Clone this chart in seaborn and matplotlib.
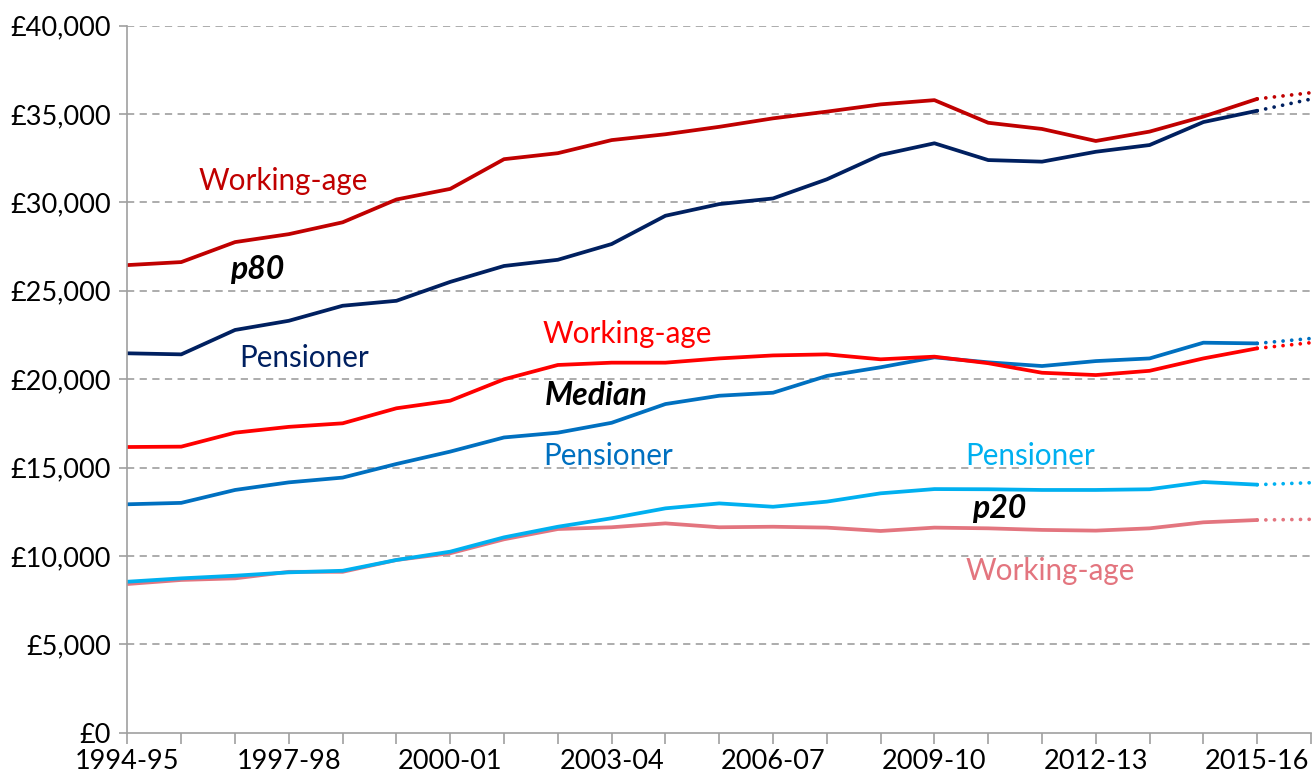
import numpy as np
import pandas as pd
import matplotlib
matplotlib.use('Agg')
import matplotlib.pyplot as plt
from matplotlib import font_manager
from matplotlib.ticker import FuncFormatter
import seaborn as sns

# Financial years (last one is the projection)
years = ['1994-95', '1995-96', '1996-97', '1997-98', '1998-99', '1999-00',
         '2000-01', '2001-02', '2002-03', '2003-04', '2004-05', '2005-06',
         '2006-07', '2007-08', '2008-09', '2009-10', '2010-11', '2011-12',
         '2012-13', '2013-14', '2014-15', '2015-16', '2016-17']

# Observed series, 1994-95 to 2015-16 (£ per year)
wa_p80 = [26450, 26620, 27750, 28200, 28870, 30160, 30760, 32440, 32780, 33520, 33850,
          34270, 34750, 35130, 35540, 35780, 34500, 34150, 33470, 34000, 34850, 35850]
pen_p80 = [21460, 21400, 22780, 23300, 24150, 24430, 25500, 26400, 26750, 27640, 29240,
           29900, 30220, 31300, 32680, 33340, 32390, 32300, 32860, 33240, 34540, 35180]
wa_median = [16160, 16180, 16970, 17300, 17500, 18350, 18780, 19990, 20800, 20930, 20930,
             21170, 21340, 21400, 21120, 21270, 20900, 20360, 20230, 20470, 21170, 21740]
pen_median = [12920, 13000, 13730, 14160, 14430, 15200, 15900, 16700, 16970, 17530, 18590,
              19060, 19230, 20180, 20670, 21230, 20950, 20740, 21020, 21170, 22060, 22020]
pen_p20 = [8540, 8730, 8880, 9070, 9160, 9770, 10240, 11050, 11650, 12130, 12690,
           12970, 12780, 13070, 13540, 13780, 13770, 13730, 13730, 13770, 14180, 14030]
wa_p20 = [8410, 8640, 8730, 9100, 9100, 9770, 10150, 10940, 11520, 11620, 11840,
          11620, 11650, 11600, 11410, 11600, 11560, 11470, 11430, 11560, 11900, 12030]

# Projected 2016-17 values (dotted)
proj_2016 = {'wa_p80': 36200, 'pen_p80': 35840, 'wa_median': 22060,
             'pen_median': 22300, 'pen_p20': 14140, 'wa_p20': 12070}

series = [
    ('wa_p20', wa_p20, '#E3757F'),
    ('pen_p20', pen_p20, '#00B0F0'),
    ('pen_median', pen_median, '#0070C0'),
    ('wa_median', wa_median, '#FF0000'),
    ('pen_p80', pen_p80, '#002060'),
    ('wa_p80', wa_p80, '#C00000'),
]

available = {f.name for f in font_manager.fontManager.ttflist}
label_font = 'Lato' if 'Lato' in available else 'DejaVu Sans'
tick_font = 'Liberation Sans Narrow' if 'Liberation Sans Narrow' in available else label_font

sns.set_style('white')
plt.rcParams['font.family'] = [label_font, 'DejaVu Sans']

fig = plt.figure(figsize=(13.14, 7.76), dpi=100)
ax = fig.add_axes([0.097, 0.0558, 0.9007, 0.9113])

lw = 2.7
for key, vals, col in series:
    x = np.arange(len(vals))
    sns.lineplot(x=x, y=vals, ax=ax, color=col, linewidth=lw)
    # dotted projection to 2016-17
    sns.lineplot(x=[len(vals) - 1, len(vals)], y=[vals[-1], proj_2016[key]], ax=ax,
                 color=col, linewidth=lw, linestyle=(0, (0.01, 2.3)),
                 dash_capstyle='round')

ax.set_xlim(0, len(years) - 1)
ax.set_ylim(0, 40000)

ax.set_xticks(np.arange(len(years)))
ax.set_xticklabels([y if i % 3 == 0 else '' for i, y in enumerate(years)])
ax.set_yticks(np.arange(0, 40001, 5000))
ax.yaxis.set_major_formatter(FuncFormatter(lambda v, p: f'£{v:,.0f}'))

for lab in ax.get_xticklabels() + ax.get_yticklabels():
    lab.set_fontfamily(tick_font)
    lab.set_fontsize(19.5)
    lab.set_color('#000000')

ax.tick_params(axis='x', direction='out', length=8, width=1.2, color='#A0A0A0', pad=4)
ax.tick_params(axis='y', direction='out', length=6, width=1.2, color='#A0A0A0', pad=6)
ax.xaxis.set_ticks_position('bottom')
ax.yaxis.set_ticks_position('left')

for y in range(5000, 40001, 5000):
    ax.axhline(y, color='#A6A6A6', linestyle=(0, (4, 3)), linewidth=1.3, zorder=0)

for side in ['top', 'right']:
    ax.spines[side].set_visible(False)
for side in ['left', 'bottom']:
    ax.spines[side].set_color('#A0A0A0')
    ax.spines[side].set_linewidth(1.2)

# Series labels
fs = 21.3
fsi = 23
ax.text(1.33, 30690, 'Working-age', color='#C00000', fontsize=fs, va='baseline')
ax.text(1.9, 25660, 'p80', color='black', fontsize=fsi, style='italic', weight='bold', va='baseline')
ax.text(2.07, 20670, 'Pensioner', color='#002060', fontsize=fs, va='baseline')
ax.text(7.72, 22020, 'Working-age', color='#FF0000', fontsize=fs, va='baseline')
ax.text(7.76, 18530, 'Median', color='black', fontsize=fsi, style='italic', weight='bold', va='baseline')
ax.text(7.72, 15140, 'Pensioner', color='#0070C0', fontsize=fs, va='baseline')
ax.text(15.58, 15140, 'Pensioner', color='#00B0F0', fontsize=fs, va='baseline')
ax.text(15.7, 12130, 'p20', color='black', fontsize=fsi, style='italic', weight='bold', va='baseline')
ax.text(15.57, 8640, 'Working-age', color='#E3757F', fontsize=fs, va='baseline')

fig.savefig('out.png', dpi=100)
